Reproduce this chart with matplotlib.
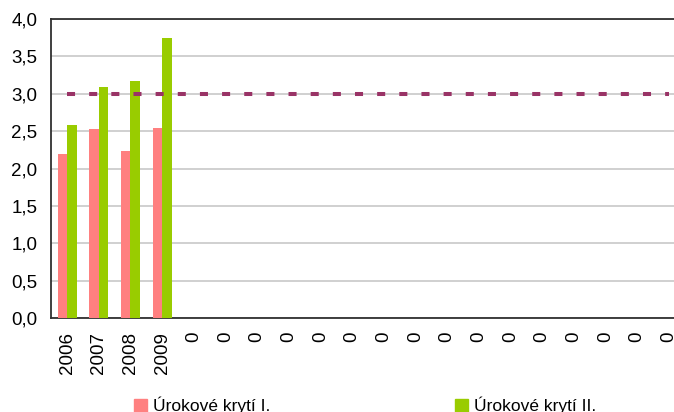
import matplotlib
matplotlib.use('Agg')

import numpy as np
import matplotlib.pyplot as plt
from matplotlib.patches import Patch

plt.rcParams['font.family'] = ['Liberation Sans', 'DejaVu Sans']

# kategorie: roky a prázdné sloupce označené nulou
roky = ['2006', '2007', '2008', '2009'] + ['0'] * 16
kryti_1 = [2.20, 2.53, 2.23, 2.54] + [0] * 16
kryti_2 = [2.58, 3.09, 3.17, 3.75] + [0] * 16
hranice = [3.0] * len(roky)

barva_1 = '#FF8080'
barva_2 = '#99CC00'
barva_hranice = '#993366'

fig = plt.figure(figsize=(6.74, 4.12), dpi=100)
ax = fig.add_axes([51.2 / 674, 1 - 318 / 412, 633.3 / 674, 299 / 412])

x = np.arange(len(roky))
sirka = 0.3
ax.bar(x - sirka / 2, kryti_1, width=sirka, color=barva_1, linewidth=0, zorder=3)
ax.bar(x + sirka / 2, kryti_2, width=sirka, color=barva_2, linewidth=0, zorder=3)
ax.plot(x, hranice, color=barva_hranice, linewidth=2.9, linestyle=(0, (2.0, 3.5)),
        solid_capstyle='butt', dash_capstyle='butt', zorder=4)

ax.set_xlim(-0.5, len(roky) - 0.5)
ax.set_ylim(0, 4.0)
ax.set_yticks(np.arange(0, 4.01, 0.5))
ax.set_yticklabels([f'{v:.1f}'.replace('.', ',') for v in np.arange(0, 4.01, 0.5)])
ax.set_xticks(x)
ax.set_xticklabels(roky, rotation=90)
ax.tick_params(length=0, labelsize=13.5, colors='black')
ax.tick_params(axis='y', pad=10)
ax.tick_params(axis='x', pad=10)

ax.grid(axis='y', color='#C8C8C8', linewidth=1.2, zorder=0)
for s in ['left', 'bottom', 'top']:
    ax.spines[s].set_color('#303030')
    ax.spines[s].set_linewidth(1.3)
ax.spines['right'].set_visible(False)

# legenda pod grafem, každá položka zvlášť
for barva, popis, x0 in [(barva_1, 'Úrokové krytí I.', 134), (barva_2, 'Úrokové krytí II.', 455)]:
    fig.legend(handles=[Patch(color=barva)], labels=[popis],
               loc='upper left', bbox_to_anchor=(x0 / 674, 1 - 397 / 412),
               frameon=False, fontsize=12.5, borderpad=0, borderaxespad=0,
               handlelength=0.75, handleheight=0.75, handletextpad=0.35)

fig.savefig('out.png', dpi=100)
